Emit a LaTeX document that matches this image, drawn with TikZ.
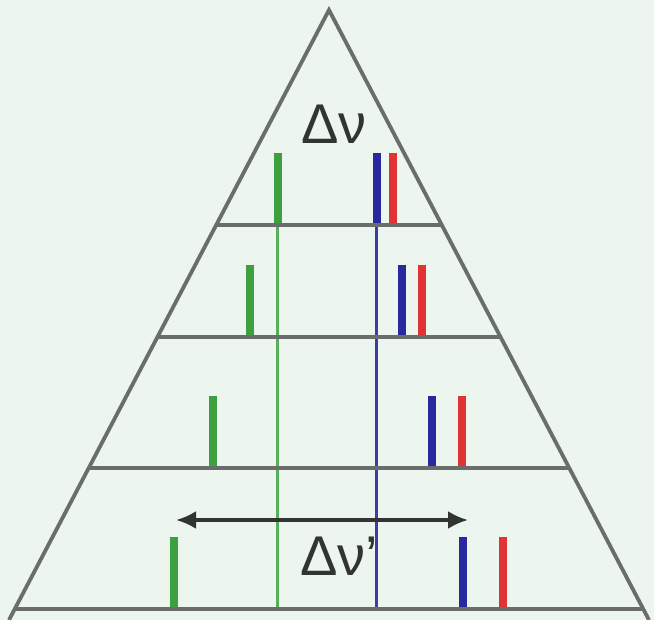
\documentclass[tikz,border=0pt]{standalone}
\usepackage{fontspec}
\setmainfont{Liberation Sans}
\usepackage{xcolor}
\usetikzlibrary{arrows.meta, calc}
\definecolor{bgcol}{RGB}{236,246,238}
\definecolor{linegray}{RGB}{105,110,108}
\definecolor{darkgray}{RGB}{50,52,52}
\definecolor{linegreen}{RGB}{60,160,62}
\definecolor{lineblue}{RGB}{40,40,160}
\definecolor{linered}{RGB}{224,52,52}

\begin{document}
\begin{tikzpicture}[x=1pt, y=-1pt,
  side/.style={draw=linegray, line width=3.8pt},
  bar/.style={line width=8pt},
  ref/.style={line width=3pt},
  edge/.style={{Latex[length=20pt,width=18pt]}-{Latex[length=20pt,width=18pt]}, line width=3.5pt, draw=darkgray},
  lab/.style={font=\fontsize{56}{56}\selectfont, text=darkgray, inner sep=0pt}
]
\fill[bgcol] (0,0) rectangle (654,620);
\useasboundingbox (0,0) rectangle (654,620);

\coordinate (apex) at (329,10);
\coordinate (bl) at (9,620);
\coordinate (br) at (649,620);

% reference lines
\draw[ref, linegreen!85!white] (277,153) -- (277,609);
\draw[ref, lineblue!90!white] (376,153) -- (376,609);

% spectra at each level
\foreach \y/\g/\b/\r in {225/278/377/393, 337/250/402/422, 468/213/432/462, 609/174/463/503}{
  \draw[bar, linegreen] (\g,\y-72) -- (\g,\y);
  \draw[bar, lineblue] (\b,\y-72) -- (\b,\y);
  \draw[bar, linered] (\r,\y-72) -- (\r,\y);
  \draw[side] ($(apex)!{(\y-10)/610}!(bl)$) -- ($(apex)!{(\y-10)/610}!(br)$);
}

% triangle
\draw[side, line join=miter] (bl) -- (apex) -- (br);

\coordinate (arrL) at (176,520);
\coordinate (arrR) at (468,520);
\draw[edge] (arrL) -- (arrR);

\node[lab] (dnu) at (334,124) {Δν};
\node[lab] (dnup) at (339,556) {Δν'};
\end{tikzpicture}
\end{document}
